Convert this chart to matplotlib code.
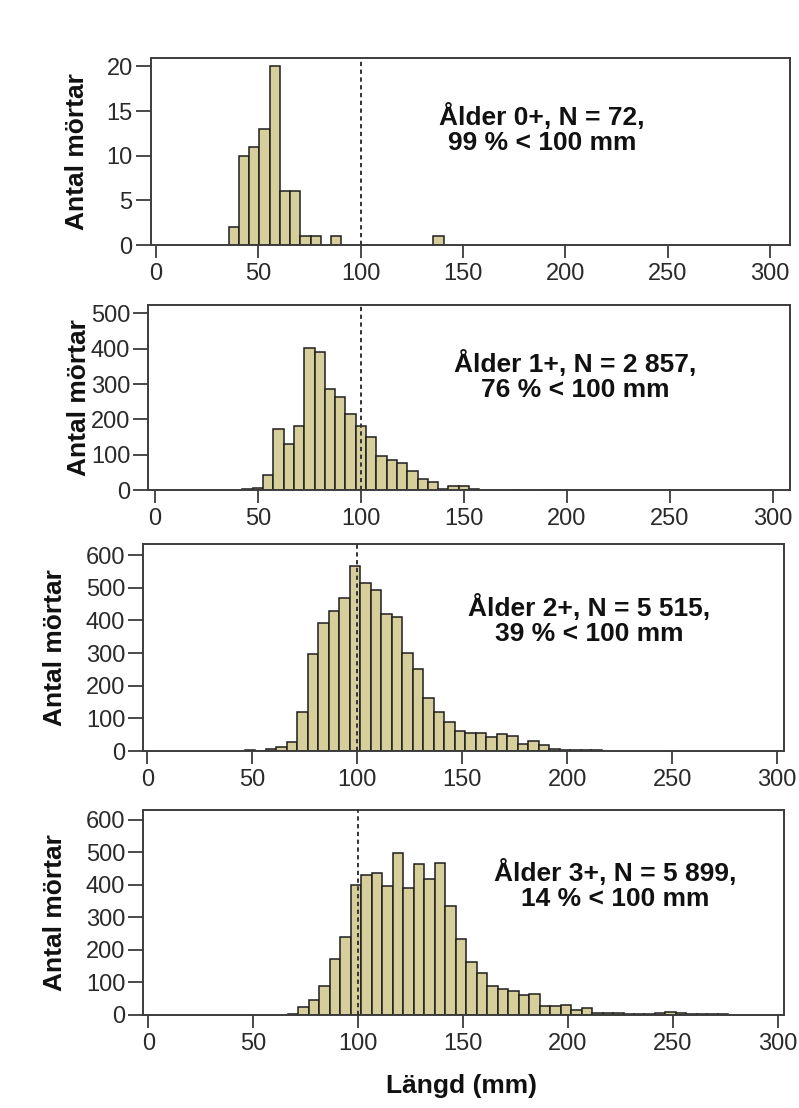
import matplotlib
matplotlib.use("Agg")
import matplotlib.pyplot as plt

plt.rcParams['font.family'] = ['Liberation Sans', 'DejaVu Sans']

W, H = 799, 1108
BIN_WIDTH = 5

# Length-frequency counts per age class, 5 mm bins starting at the given edge
age0_first_edge = 35.5
age0_counts = [2, 10, 11, 13, 20, 6, 6, 1, 1, 0, 1, 0, 0, 0, 0, 0, 0, 0, 0, 0, 1]

age1_first_edge = 42.5
age1_counts = [2, 7, 42, 173, 131, 181, 401, 390, 285, 264, 215, 181, 150, 96,
               85, 76, 55, 31, 22, 4, 12, 11, 3, 0, 0, 0, 1, 0, 0, 1, 1]

age2_first_edge = 46.5
age2_counts = [2, 1, 7, 12, 28, 120, 298, 391, 429, 467, 566, 513, 493, 419,
               410, 299, 250, 163, 119, 89, 60, 55, 55, 43, 51, 46, 22, 30, 19,
               5, 4, 4, 3, 2]

age3_first_edge = 66.5
age3_counts = [3, 24, 46, 87, 171, 238, 398, 431, 436, 396, 499, 390, 464, 418,
               468, 334, 233, 162, 128, 87, 79, 73, 59, 64, 26, 26, 29, 14, 20,
               4, 6, 4, 2, 1, 3, 4, 7, 4, 3, 1, 3, 1]

panel_labels = [
    "Ålder 0+, N = 72,\n99 % < 100 mm",
    "Ålder 1+, N = 2 857,\n76 % < 100 mm",
    "Ålder 2+, N = 5 515,\n39 % < 100 mm",
    "Ålder 3+, N = 5 899,\n14 % < 100 mm",
]
y_ticks = [[0, 5, 10, 15, 20],
           [0, 100, 200, 300, 400, 500],
           [0, 100, 200, 300, 400, 500, 600],
           [0, 100, 200, 300, 400, 500, 600]]
x_ticks = [0, 50, 100, 150, 200, 250, 300]
threshold_mm = 100
y_label = "Antal mörtar"
x_label = "Längd (mm)"

series = [(age0_first_edge, age0_counts), (age1_first_edge, age1_counts),
          (age2_first_edge, age2_counts), (age3_first_edge, age3_counts)]

# Panel frames in pixels: left, top, right, bottom
frames = [(150.7, 58, 790, 245),
          (148.3, 305, 790, 490),
          (143.3, 544, 784, 751),
          (143.3, 810, 784, 1014.5)]
xlims = [(-2.6, 309.7), (-3.2, 308.3), (-1.9, 303.3), (-2.4, 303.0)]
ylims = [(0, 20.95), (0, 524), (0, 633.7), (0, 630.8)]
text_pos = [(542, 129), (575, 376), (589, 620), (615, 885)]
ylabel_x = [77, 79, 55, 55]

BAR_FACE = '#d7cf9b'
EDGE = '#1e1e1e'
FRAME = '#3c3c3c'

fig = plt.figure(figsize=(W / 100, H / 100), dpi=100)

for i, (first_edge, counts) in enumerate(series):
    l, t, r, b = frames[i]
    ax = fig.add_axes([l / W, 1 - b / H, (r - l) / W, (b - t) / H])
    edges = [first_edge + BIN_WIDTH * k for k in range(len(counts))]
    xs = [e for e, c in zip(edges, counts) if c > 0]
    hs = [c for c in counts if c > 0]
    ax.bar(xs, hs, width=BIN_WIDTH, align='edge', color=BAR_FACE,
           edgecolor=EDGE, linewidth=1.1, zorder=2)
    ax.axvline(threshold_mm, color='#333333', linestyle=(0, (2.2, 1.8)),
               linewidth=1.4, zorder=3)
    ax.set_xlim(*xlims[i])
    ax.set_ylim(*ylims[i])
    ax.set_xticks(x_ticks)
    ax.set_yticks(y_ticks[i])
    ax.tick_params(axis='y', direction='out', length=11, width=1.3,
                   color=FRAME, labelsize=17, pad=2, labelcolor='#2a2a2a')
    ax.tick_params(axis='x', direction='out', length=9, width=1.3,
                   color=FRAME, labelsize=17, pad=4, labelcolor='#2a2a2a')
    for sp in ax.spines.values():
        sp.set_color(FRAME)
        sp.set_linewidth(1.4)
    ax.text(text_pos[i][0] / W, 1 - text_pos[i][1] / H, panel_labels[i],
            transform=fig.transFigure, ha='center', va='center',
            multialignment='center', fontsize=19, fontweight='bold',
            linespacing=1.02, color='#111111')
    fig.text(ylabel_x[i] / W, 1 - ((t + b) / 2) / H, y_label,
             rotation=90, ha='center', va='center', fontsize=19,
             fontweight='bold', color='#111111')

fig.text(462 / W, 1 - 1086 / H, x_label, ha='center', va='center',
         fontsize=19, fontweight='bold', color='#111111')

fig.savefig('out.png', dpi=100, facecolor='white')
